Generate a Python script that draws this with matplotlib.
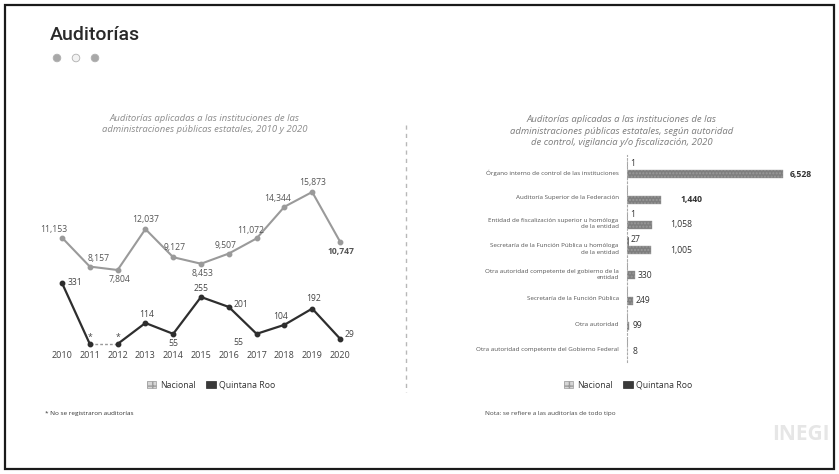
import matplotlib
matplotlib.use("Agg")
import matplotlib.pyplot as plt
from matplotlib.patches import Rectangle, Circle, Patch
from matplotlib.lines import Line2D

plt.rcParams['font.family'] = ['Open Sans', 'DejaVu Sans']

# ---------------- data ----------------
years = [2010, 2011, 2012, 2013, 2014, 2015, 2016, 2017, 2018, 2019, 2020]
nacional = [11153, 8157, 7804, 12037, 9127, 8453, 9507, 11072, 14344, 15873, 10747]
quintana_roo = [331, 0, 0, 114, 55, 255, 201, 55, 104, 192, 29]
qroo_sin_registro = [False, True, True, False, False, False, False, False, False, False, False]

categorias = [
    "Órgano interno de control de las instituciones",
    "Auditoría Superior de la Federación",
    "Entidad de fiscalización superior u homóloga\nde la entidad",
    "Secretaría de la Función Pública u homóloga\nde la entidad",
    "Otra autoridad competente del gobierno de la\nentidad",
    "Secretaría de la Función Pública",
    "Otra autoridad",
    "Otra autoridad competente del Gobierno Federal",
]
bar_nacional = [6528, 1440, 1058, 1005, 330, 249, 99, 8]
bar_qroo = [1, 0, 1, 27, 0, 0, 0, 0]

titulo = "Auditorías"
titulo_izq = "Auditorías aplicadas a las instituciones de las\nadministraciones públicas estatales, 2010 y 2020"
titulo_der = ("Auditorías aplicadas a las instituciones de las\n"
              "administraciones públicas estatales, según autoridad\n"
              "de control, vigilancia y/o fiscalización, 2020")
nota_izq = "* No se registraron auditorías"
nota_der = "Nota: se refiere a las auditorías de todo tipo"

# ---------------- figure ----------------
W, H = 839, 474
fig = plt.figure(figsize=(W / 100, H / 100), dpi=100)
fig.patch.set_facecolor('white')

def rect(x0, y0, x1, y1):
    return [x0 / W, 1 - y1 / H, (x1 - x0) / W, (y1 - y0) / H]

def fx(x):
    return x / W

def fy(y):
    return 1 - y / H

# border
fig.add_artist(Rectangle((fx(5), fy(469)), fx(829), (464) / H, transform=fig.transFigure,
                         fill=False, edgecolor='#1a1a1a', linewidth=1.6))

# main title + dots
fig.text(fx(50), fy(35), titulo, family=['Roboto', 'DejaVu Sans'], fontsize=14,
         fontweight='medium', color='#2a2a2a', va='center', ha='left')
for cx, fc in [(57, '#a8a8a8'), (76, '#f2f2f2'), (95, '#a8a8a8')]:
    fig.add_artist(Circle((cx / 100, (H - 58) / 100), 0.038, transform=fig.dpi_scale_trans,
                          facecolor=fc, edgecolor='#b0b0b0', linewidth=0.6))

# chart titles
fig.text(fx(205), fy(124), titulo_izq, fontsize=6.8, style='italic', color='#8c8c8c',
         ha='center', va='center', linespacing=1.35)
fig.text(fx(622), fy(131), titulo_der, fontsize=6.8, style='italic', color='#7c7c7c',
         ha='center', va='center', linespacing=1.35)

# divider
fig.add_artist(Line2D([fx(406), fx(406)], [fy(125), fy(392)], transform=fig.transFigure,
                      color='#b8b8b8', linewidth=1.0, linestyle=(0, (3, 3))))

# ---------------- left line chart ----------------
c_nac = '#9a9a9a'
c_qr = '#2e2e2e'
ax1 = fig.add_axes(rect(62, 180, 340, 350))
ax1.set_xlim(2010, 2020)
ax1.set_ylim(-472, 17115)
ax1.plot(years, nacional, color=c_nac, linewidth=1.5, marker='o', markersize=3.2, clip_on=False, zorder=3)
ax2 = ax1.twinx()
ax2.set_ylim(-32.6, 889.8)
for i in range(len(years) - 1):
    dotted = qroo_sin_registro[i] and qroo_sin_registro[i + 1]
    ax2.plot(years[i:i + 2], quintana_roo[i:i + 2],
             color='#9a9a9a' if dotted else c_qr,
             linewidth=1.0 if dotted else 1.6,
             linestyle=(0, (2, 1.5)) if dotted else '-', clip_on=False, zorder=3)
ax2.plot(years, quintana_roo, linestyle='none', marker='o', markersize=3.2, color=c_qr,
         clip_on=False, zorder=4)

for a in (ax1, ax2):
    for s in a.spines.values():
        s.set_visible(False)
    a.set_yticks([])
    a.patch.set_visible(False)
ax1.set_xticks(years)
ax1.set_xticklabels([str(y) for y in years], fontsize=6.5, color='#444444')
ax1.tick_params(axis='x', length=0, pad=1)

# data labels (offsets in points are placement styling)
off_nac = [(-6, 6), (6, 6), (1, -7), (0, 7), (1, 7), (1, -7), (-2, 6), (-4, 6), (-5, 6), (0, 7), (1, -7)]
for i, (y, v) in enumerate(zip(years, nacional)):
    dx, dy = off_nac[i]
    ax1.annotate(f"{v:,}", (y, v), xytext=(dx, dy), textcoords='offset points',
                 ha='center', va='center', fontsize=6.2, color='#555555',
                 fontweight='bold' if i == len(years) - 1 else 'normal')
off_qr = [(9, 0), (0, 5), (0, 5), (1, 6), (0, -7), (0, 6), (9, 2), (-13, -6), (-3, 6), (1, 7), (7, 3)]
for i, (y, v) in enumerate(zip(years, quintana_roo)):
    dx, dy = off_qr[i]
    txt = "*" if qroo_sin_registro[i] else f"{v:,}"
    ax2.annotate(txt, (y, v), xytext=(dx, dy), textcoords='offset points',
                 ha='center', va='center', fontsize=6.2, color='#444444')

# left legend
h_nac = Patch(facecolor='#d6d6d6', edgecolor='#9a9a9a', hatch='+++', linewidth=0.5)
h_qr = Patch(facecolor='#3a3a3a', edgecolor='#2a2a2a', linewidth=0.5)
for cx in (fx(211), fx(628)):
    fig.legend([h_nac, h_qr], ['Nacional', 'Quintana Roo'], loc='center',
               bbox_to_anchor=(cx, fy(385)), ncol=2, frameon=False, fontsize=6.3,
               handlelength=1.1, handleheight=1.0, handletextpad=0.4, columnspacing=1.2,
               labelcolor='#333333')

fig.text(fx(45), fy(413), nota_izq, fontsize=4.6, color='#333333', va='center')
fig.text(fx(485), fy(413), nota_der, fontsize=4.6, color='#444444', va='center')

# ---------------- right bar chart ----------------
ax3 = fig.add_axes(rect(627, 155, 807, 362))
n = len(categorias)
ax3.set_xlim(0, 180 * 6528 / 156)
ax3.set_ylim(n - 0.4, -0.6)
pos = list(range(n))
bh = 0.32
ax3.barh([p + 0.17 for p in pos], bar_nacional, height=bh, color='#7e7e7e',
         edgecolor='#9a9a9a', hatch='.....', linewidth=0.3)
ax3.barh([p - 0.2 for p in pos], bar_qroo, height=bh, color='#3a3a3a',
         edgecolor='#555555', linewidth=0.4)
pad_nac = [5, 14, 13, 14, 2, 2, 2, 4]
for i, v in enumerate(bar_nacional):
    ax3.annotate(f"{v:,}", (v, i + 0.17), xytext=(pad_nac[i], 0), textcoords='offset points',
                 ha='left', va='center', fontsize=6.2, color='#333333',
                 fontweight='bold' if i in (0, 1) else 'normal')
for i, v in enumerate(bar_qroo):
    if v > 0:
        ax3.annotate(f"{v:,}", (v, i - 0.2), xytext=(2, 1), textcoords='offset points',
                     ha='left', va='center', fontsize=6.2, color='#333333')
ax3.set_yticks([p + 0.08 for p in pos])
ax3.set_yticklabels(categorias, fontsize=4.5, color='#555555', linespacing=1.3)
ax3.tick_params(axis='y', length=0, pad=6)
ax3.set_xticks([])
for k, s in ax3.spines.items():
    s.set_visible(k == 'left')
ax3.spines['left'].set_linestyle((0, (1.5, 2)))
ax3.spines['left'].set_color('#aaaaaa')
ax3.spines['left'].set_linewidth(0.8)
ax3.patch.set_visible(False)

# faint INEGI mark
fig.text(fx(830), fy(435), "INEGI", fontsize=15, fontweight='bold', color='#e6e6e6',
         ha='right', va='center')

fig.savefig("out.png", dpi=100, facecolor='white')
